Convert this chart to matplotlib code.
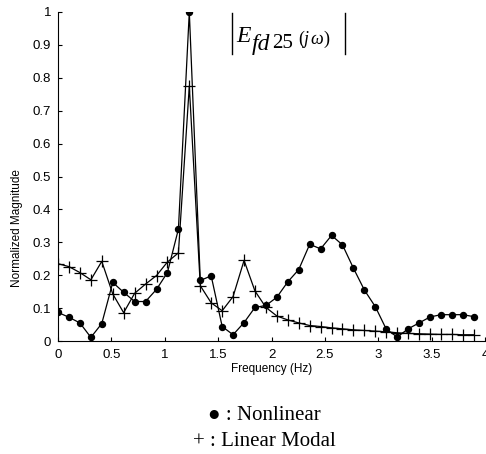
import matplotlib
matplotlib.use("Agg")
import matplotlib.pyplot as plt

# frequency bins (Hz)
freq = [0.000, 0.103, 0.205, 0.308, 0.410, 0.513, 0.615, 0.718, 0.820, 0.923,
        1.025, 1.128, 1.230, 1.333, 1.435, 1.538, 1.640, 1.743, 1.845, 1.948,
        2.050, 2.153, 2.255, 2.358, 2.460, 2.563, 2.665, 2.768, 2.870, 2.973,
        3.075, 3.178, 3.280, 3.383, 3.485, 3.588, 3.690, 3.793, 3.895]

nonlinear = [0.087, 0.072, 0.055, 0.011, 0.053, 0.178, 0.148, 0.120, 0.120, 0.157,
             0.208, 0.340, 1.000, 0.184, 0.198, 0.044, 0.019, 0.056, 0.102, 0.108,
             0.133, 0.180, 0.217, 0.294, 0.280, 0.321, 0.292, 0.221, 0.155, 0.104,
             0.036, 0.012, 0.037, 0.055, 0.073, 0.080, 0.080, 0.080, 0.074]

linear_modal = [0.235, 0.226, 0.208, 0.186, 0.242, 0.143, 0.086, 0.145, 0.173, 0.199,
                0.240, 0.268, 0.775, 0.168, 0.116, 0.092, 0.135, 0.245, 0.152, 0.102,
                0.076, 0.064, 0.055, 0.047, 0.044, 0.040, 0.037, 0.034, 0.032, 0.030,
                0.028, 0.025, 0.023, 0.022, 0.021, 0.020, 0.020, 0.019, 0.019]

xticks = [0, 0.5, 1, 1.5, 2, 2.5, 3, 3.5, 4]
yticks = [0, 0.1, 0.2, 0.3, 0.4, 0.5, 0.6, 0.7, 0.8, 0.9, 1]

W, H = 486, 454
fig = plt.figure(figsize=(W / 100, H / 100), dpi=100)
ax = fig.add_axes([58 / W, (H - 341) / H, 427 / W, 329 / H])

ax.plot(freq, nonlinear, color="black", lw=0.9, marker="o", ms=4.3, mec="black", mfc="black")
ax.plot(freq, linear_modal, color="black", lw=0.9, marker="+", ms=8, mew=0.9)

ax.set_xlim(0, 4)
ax.set_ylim(0, 1)
ax.set_xticks(xticks)
ax.set_xticklabels(["0", "0.5", "1", "1.5", "2", "2.5", "3", "3.5", "4"])
ax.set_yticks(yticks)
ax.set_yticklabels(["0", "0.1", "0.2", "0.3", "0.4", "0.5", "0.6", "0.7", "0.8", "0.9", "1"])
ax.spines["top"].set_visible(False)
ax.spines["right"].set_visible(False)
ax.tick_params(direction="in", length=3, width=0.8, labelsize=9.5)
ax.tick_params(axis="x", pad=6)
ax.tick_params(axis="y", pad=5)
for lab in ax.get_xticklabels() + ax.get_yticklabels():
    lab.set_family("Liberation Sans")

ax.set_xlabel("Frequency (Hz)", family="Liberation Sans", fontsize=8.5, va="center")
ax.xaxis.set_label_coords(0.5, -(369 - 341) / 329)
ax.set_ylabel("Normalized Magnitude", family="Liberation Sans", fontsize=8.5, va="center")
ax.yaxis.set_label_coords(-(58 - 17) / 427, (341 - 228) / 329)


def px(x, y):
    return x / W, 1 - y / H


# |E_fd25(jw)| annotation
serif = "Liberation Serif"
fig.text(*px(236, 42), "E", family=serif, style="italic", fontsize=17, va="baseline")
fig.text(*px(252, 50), "fd", family=serif, style="italic", fontsize=17, va="baseline")
fig.text(*px(272, 48), "25", family=serif, fontsize=15, va="baseline")
fig.text(*px(298, 44), "(", family=serif, fontsize=13, va="baseline")
fig.text(*px(304, 44), "j", family=serif, style="italic", fontsize=13, va="baseline")
fig.text(*px(310, 44), "\u03c9", family=serif, style="italic", fontsize=13, va="baseline")
fig.text(*px(323, 44), ")", family=serif, fontsize=13, va="baseline")
for xb in (232, 345):
    fig.add_artist(plt.Line2D([xb / W, xb / W], [1 - 13 / H, 1 - 54 / H], color="black", lw=1.0))

# legend text
fig.text(*px(264, 416), "\u25cf : Nonlinear", family=serif, fontsize=15, ha="center", va="center")
fig.text(*px(264, 441), "+ : Linear Modal", family=serif, fontsize=15, ha="center", va="center")

fig.savefig("out.png", dpi=100)
